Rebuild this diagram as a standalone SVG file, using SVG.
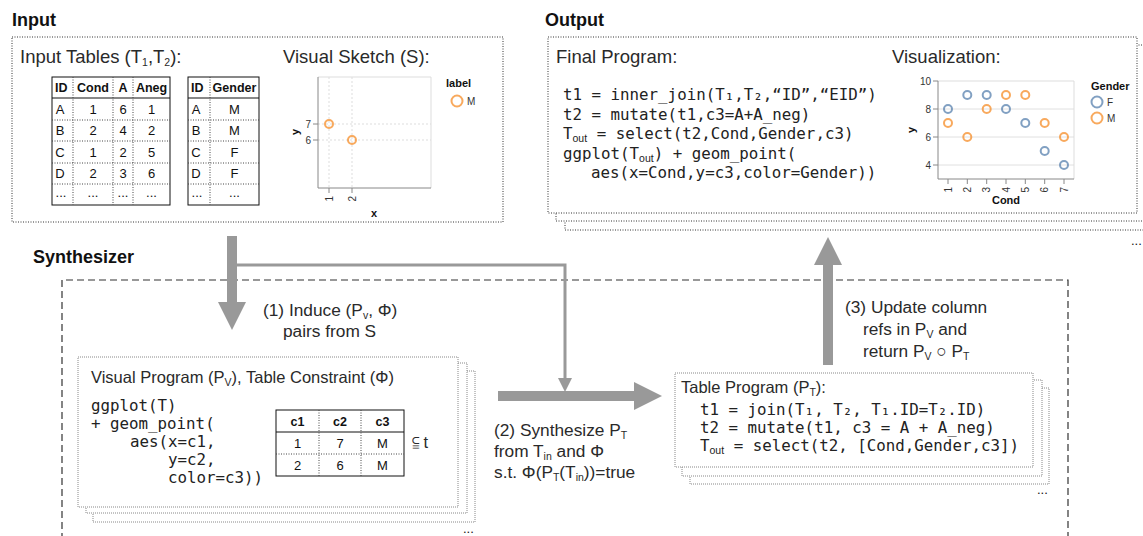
<svg xmlns="http://www.w3.org/2000/svg" width="1143" height="536" viewBox="0 0 1143 536">
<defs>
<style>
.title{font-family:'Liberation Sans',Arial,sans-serif;font-weight:bold;font-size:18px;fill:#111}
.lbl{font-family:'Liberation Sans',Arial,sans-serif;font-size:16.5px;fill:#2a2a2a}
.top{font-size:18.5px}
.arr{font-size:17.3px}
.sub{font-size:10.5px}
.code{font-family:'DejaVu Sans Mono',monospace;font-size:15.8px;fill:#222;white-space:pre}
.csub{font-family:'Liberation Sans',sans-serif;font-size:10.5px}
.th{font-family:'Liberation Sans',Arial,sans-serif;font-weight:bold;font-size:12.5px;fill:#111}
.td{font-family:'Liberation Sans',Arial,sans-serif;font-size:13px;fill:#111}
.ax{font-family:'Liberation Sans',Arial,sans-serif;font-size:10px;fill:#333}
.axt{font-family:'Liberation Sans',Arial,sans-serif;font-weight:bold;font-size:11px;fill:#111}
.dotbox{fill:#fff;stroke:#333;stroke-width:1;stroke-dasharray:1 1.5}
.frame{fill:#fff;stroke:#888;stroke-width:1;stroke-dasharray:1 1}
.dash{fill:none;stroke:#333;stroke-width:1.2;stroke-dasharray:7 4}
.tb{fill:#fff;stroke:#111;stroke-width:1}
.tsolid{stroke:#111;stroke-width:1}
.tdot{stroke:#444;stroke-width:1;stroke-dasharray:1 1.5}
.grid{stroke:#e0e0e0;stroke-width:1}
.gdash{stroke:#ddd;stroke-width:1;stroke-dasharray:2 2}
.axis{stroke:#888;stroke-width:1;fill:none}
.pborder{stroke:#ddd;stroke-width:1;fill:none}
.pF{fill:none;stroke:#4c78a8;stroke-width:2;stroke-opacity:.7}
.pM{fill:none;stroke:#f58518;stroke-width:2;stroke-opacity:.7}
.big{fill:none;stroke:#999;stroke-width:10}
.thin{fill:none;stroke:#999;stroke-width:3}
</style>
<marker id="bighead" markerUnits="userSpaceOnUse" markerWidth="30" markerHeight="30" refX="0" refY="14" orient="auto" viewBox="0 0 30 30">
<path d="M0,0 L28,14 L0,28 z" fill="#999"/>
</marker>
<marker id="smallhead" markerUnits="userSpaceOnUse" markerWidth="16" markerHeight="16" refX="0" refY="7" orient="auto" viewBox="0 0 16 16">
<path d="M0,0 L14,7 L0,14 z" fill="#999"/>
</marker>
</defs>
<rect width="1143" height="536" fill="#fff"/>

<!-- Titles -->
<text class="title" x="12" y="26">Input</text>
<text class="title" x="545" y="26">Output</text>
<text class="title" x="33" y="263">Synthesizer</text>

<!-- Synthesizer dashed region -->
<path class="dash" d="M62,540 V280 H1068 V540"/>

<!-- Input node -->
<g id="input">
<rect class="dotbox" x="12" y="37" width="491" height="185"/>
<text class="lbl top" x="20" y="63">Input Tables (T<tspan class="sub" dy="3">1</tspan><tspan dy="-3">,T</tspan><tspan class="sub" dy="3">2</tspan><tspan dy="-3">):</tspan></text>
<g id="table1">
<rect class="tb" x="52" y="77" width="118" height="128"/>
<line class="tsolid" x1="52" y1="98" x2="170" y2="98"/>
<line class="tdot" x1="52" y1="120" x2="170" y2="120"/>
<line class="tdot" x1="52" y1="141" x2="170" y2="141"/>
<line class="tdot" x1="52" y1="163" x2="170" y2="163"/>
<line class="tdot" x1="52" y1="184" x2="170" y2="184"/>
<line class="tdot" x1="73" y1="77" x2="73" y2="205"/>
<line class="tdot" x1="113" y1="77" x2="113" y2="205"/>
<line class="tdot" x1="133" y1="77" x2="133" y2="205"/>
<text class="th" x="55" y="92">ID</text>
<text class="th" x="93" y="92" text-anchor="middle">Cond</text>
<text class="th" x="123" y="92" text-anchor="middle">A</text>
<text class="th" x="151.5" y="92" text-anchor="middle">Aneg</text>
<g class="td" text-anchor="middle">
<text x="60" y="114">A</text><text x="93" y="114">1</text><text x="123" y="114">6</text><text x="151.5" y="114">1</text>
<text x="60" y="135">B</text><text x="93" y="135">2</text><text x="123" y="135">4</text><text x="151.5" y="135">2</text>
<text x="60" y="157">C</text><text x="93" y="157">1</text><text x="123" y="157">2</text><text x="151.5" y="157">5</text>
<text x="60" y="178">D</text><text x="93" y="178">2</text><text x="123" y="178">3</text><text x="151.5" y="178">6</text>
<text x="61" y="197">...</text><text x="93" y="197">...</text><text x="123" y="197">...</text><text x="151.5" y="197">...</text>
</g>
</g>
<g id="table2">
<rect class="tb" x="188" y="77" width="71" height="128"/>
<line class="tsolid" x1="188" y1="98" x2="259" y2="98"/>
<line class="tdot" x1="188" y1="120" x2="259" y2="120"/>
<line class="tdot" x1="188" y1="141" x2="259" y2="141"/>
<line class="tdot" x1="188" y1="163" x2="259" y2="163"/>
<line class="tdot" x1="188" y1="184" x2="259" y2="184"/>
<line class="tdot" x1="210" y1="77" x2="210" y2="205"/>
<text class="th" x="191" y="92">ID</text>
<text class="th" x="234.5" y="92" text-anchor="middle">Gender</text>
<g class="td" text-anchor="middle">
<text x="196" y="114">A</text><text x="234.5" y="114">M</text>
<text x="196" y="135">B</text><text x="234.5" y="135">M</text>
<text x="196" y="157">C</text><text x="234.5" y="157">F</text>
<text x="196" y="178">D</text><text x="234.5" y="178">F</text>
<text x="197" y="197">...</text><text x="234.5" y="197">...</text>
</g>
</g>
<g id="sketch">
<text class="lbl top" x="283" y="63">Visual Sketch (S):</text>
<line class="gdash" x1="329" y1="77" x2="329" y2="188"/>
<line class="gdash" x1="352" y1="77" x2="352" y2="188"/>
<line class="gdash" x1="318" y1="124" x2="431" y2="124"/>
<line class="gdash" x1="318" y1="140" x2="431" y2="140"/>
<path class="pborder" d="M318,77 H431 V188"/>
<path class="axis" d="M318,77 V188 H431"/>
<path class="axis" d="M313,124 H318 M313,140 H318 M329,188 V193 M352,188 V193"/>
<text class="ax" x="311" y="128" text-anchor="end" font-size="11">7</text>
<text class="ax" x="311" y="144" text-anchor="end" font-size="11">6</text>
<text class="ax" transform="translate(329,196) rotate(-90)" text-anchor="end" dy="0.35em" font-size="11">1</text>
<text class="ax" transform="translate(352,196) rotate(-90)" text-anchor="end" dy="0.35em" font-size="11">2</text>
<text class="axt" transform="translate(299,132) rotate(-90)" text-anchor="middle">y</text>
<text class="axt" x="374" y="217" text-anchor="middle">x</text>
<circle class="pM" cx="329" cy="124" r="4"/>
<circle class="pM" cx="352" cy="140" r="4"/>
<text class="axt" x="446" y="87">label</text>
<circle class="pM" cx="457" cy="101" r="5.5" stroke-width="1.8"/>
<text class="ax" x="467" y="105" font-size="11">M</text>
</g>
</g>

<!-- Output node -->
<g id="output">
<rect class="dotbox" x="565" y="54" width="600" height="176"/>
<rect class="dotbox" x="556" y="45" width="600" height="176"/>
<rect class="dotbox" x="548" y="37" width="589" height="176"/>
<text class="lbl top" x="556" y="63">Final Program:</text>
<text class="code" x="563" y="100">t1 = inner_join(T₁,T₂,“ID”,“EID”)</text>
<text class="code" x="563" y="119.5">t2 = mutate(t1,c3=A+A_neg)</text>
<text class="code" x="563" y="139">T<tspan class="csub" dy="3">out</tspan><tspan dy="-3"> = select(t2,Cond,Gender,c3)</tspan></text>
<text class="code" x="563" y="158.5">ggplot(T<tspan class="csub" dy="3">out</tspan><tspan dy="-3">) + geom_point(</tspan></text>
<text class="code" x="591" y="178">aes(x=Cond,y=c3,color=Gender))</text>
<text class="lbl top" x="892" y="63">Visualization:</text>
<g id="chart">
<line class="grid" x1="938" y1="109" x2="1074" y2="109"/>
<line class="grid" x1="938" y1="137" x2="1074" y2="137"/>
<line class="grid" x1="938" y1="165" x2="1074" y2="165"/>
<path class="pborder" d="M938,81 H1074 V179"/>
<path class="axis" d="M938,81 V179 H1074"/>
<path class="axis" d="M933,81 H938 M933,109 H938 M933,137 H938 M933,165 H938"/>
<text class="ax" x="931" y="84.5" text-anchor="end">10</text>
<text class="ax" x="931" y="112.5" text-anchor="end">8</text>
<text class="ax" x="931" y="140.5" text-anchor="end">6</text>
<text class="ax" x="931" y="168.5" text-anchor="end">4</text>
<path class="axis" d="M948,179 V184 M967.3,179 V184 M986.7,179 V184 M1006,179 V184 M1025.3,179 V184 M1044.7,179 V184 M1064,179 V184"/>
<text class="ax" transform="translate(948,187) rotate(-90)" text-anchor="end" dy="0.35em">1</text>
<text class="ax" transform="translate(967.3,187) rotate(-90)" text-anchor="end" dy="0.35em">2</text>
<text class="ax" transform="translate(986.7,187) rotate(-90)" text-anchor="end" dy="0.35em">3</text>
<text class="ax" transform="translate(1006,187) rotate(-90)" text-anchor="end" dy="0.35em">4</text>
<text class="ax" transform="translate(1025.3,187) rotate(-90)" text-anchor="end" dy="0.35em">5</text>
<text class="ax" transform="translate(1044.7,187) rotate(-90)" text-anchor="end" dy="0.35em">6</text>
<text class="ax" transform="translate(1064,187) rotate(-90)" text-anchor="end" dy="0.35em">7</text>
<text class="axt" transform="translate(915,130) rotate(-90)" text-anchor="middle">y</text>
<text class="axt" x="1006" y="204" text-anchor="middle">Cond</text>
<circle class="pF" cx="948" cy="109" r="4"/><circle class="pM" cx="948" cy="123" r="4"/>
<circle class="pF" cx="967.3" cy="95" r="4"/><circle class="pM" cx="967.3" cy="137" r="4"/>
<circle class="pF" cx="986.7" cy="95" r="4"/><circle class="pM" cx="986.7" cy="109" r="4"/>
<circle class="pF" cx="1006" cy="109" r="4"/><circle class="pM" cx="1006" cy="95" r="4"/>
<circle class="pF" cx="1025.3" cy="123" r="4"/><circle class="pM" cx="1025.3" cy="95" r="4"/>
<circle class="pF" cx="1044.7" cy="151" r="4"/><circle class="pM" cx="1044.7" cy="123" r="4"/>
<circle class="pF" cx="1064" cy="165" r="4"/><circle class="pM" cx="1064" cy="137" r="4"/>
<text class="axt" x="1091" y="90">Gender</text>
<circle class="pF" cx="1097" cy="102" r="5.5" stroke-width="1.8"/>
<text class="ax" x="1107" y="106" font-size="11">F</text>
<circle class="pM" cx="1097" cy="118" r="5.5" stroke-width="1.8"/>
<text class="ax" x="1107" y="122" font-size="11">M</text>
</g>
<text class="td" x="1131" y="245">...</text>
</g>

<!-- Visual program node -->
<g id="visual-program">
<rect class="frame" x="93" y="371" width="382" height="151"/>
<rect class="frame" x="86" y="363" width="381" height="150"/>
<rect class="frame" x="78" y="357" width="380" height="150"/>
<text class="lbl" x="91" y="383">Visual Program (P<tspan class="sub" dy="3">V</tspan><tspan dy="-3">), Table Constraint (Φ)</tspan></text>
<text class="code" x="91" y="411">ggplot(T)</text>
<text class="code" x="91" y="429">+ geom_point(</text>
<text class="code" x="130" y="447">aes(x=c1,</text>
<text class="code" x="168" y="465">y=c2,</text>
<text class="code" x="168" y="483">color=c3))</text>
<g id="constraint-table">
<rect class="tb" x="276" y="410" width="128" height="66"/>
<line class="tsolid" x1="276" y1="432" x2="404" y2="432"/>
<line class="tdot" x1="276" y1="454" x2="404" y2="454"/>
<line class="tdot" x1="319" y1="410" x2="319" y2="476"/>
<line class="tdot" x1="361" y1="410" x2="361" y2="476"/>
<g text-anchor="middle">
<text class="th" x="297.5" y="425.5">c1</text><text class="th" x="340" y="425.5">c2</text><text class="th" x="382.5" y="425.5">c3</text>
<text class="td" x="297.5" y="447.5">1</text><text class="td" x="340" y="447.5">7</text><text class="td" x="382.5" y="447.5">M</text>
<text class="td" x="297.5" y="469.5">2</text><text class="td" x="340" y="469.5">6</text><text class="td" x="382.5" y="469.5">M</text>
</g>
</g>
<text class="lbl" x="412" y="448" font-size="15.5">⫅ t</text>
<text class="td" x="463" y="533">...</text>
</g>

<!-- Table program node -->
<g id="table-program">
<rect class="frame" x="690" y="388" width="359" height="96"/>
<rect class="frame" x="682" y="380" width="360" height="96"/>
<rect class="frame" x="675" y="373" width="358" height="94"/>
<text class="lbl" x="681" y="393">Table Program (P<tspan class="sub" dy="3">T</tspan><tspan dy="-3">):</tspan></text>
<text class="code" x="700" y="415">t1 = join(T₁, T₂, T₁.ID=T₂.ID)</text>
<text class="code" x="700" y="433">t2 = mutate(t1, c3 = A + A_neg)</text>
<text class="code" x="700" y="451">T<tspan class="csub" dy="3">out</tspan><tspan dy="-3"> = select(t2, [Cond,Gender,c3])</tspan></text>
<text class="td" x="1037" y="494">...</text>
</g>

<!-- Connectors -->
<g id="connectors">
<path class="thin" d="M236,265 H565 V378" marker-end="url(#smallhead)"/>
<path class="big" d="M232,236 V302" marker-end="url(#bighead)"/>
<path class="big" d="M498,396 H634" marker-end="url(#bighead)"/>
<path class="big" d="M828,365 V265" marker-end="url(#bighead)"/>
</g>

<!-- Connector labels -->
<g id="labels">
<text class="lbl arr" x="263" y="316">(1) Induce (P<tspan class="sub" dy="3">v</tspan><tspan dy="-3">, Φ)</tspan></text>
<text class="lbl arr" x="283" y="337">pairs from S</text>
<text class="lbl arr" x="494" y="436">(2) Synthesize P<tspan class="sub" dy="3">T</tspan></text>
<text class="lbl arr" x="494" y="457">from T<tspan class="sub" dy="3">in</tspan><tspan dy="-3"> and Φ</tspan></text>
<text class="lbl arr" x="494" y="478">s.t. Φ(P<tspan class="sub" dy="3">T</tspan><tspan dy="-3">(T</tspan><tspan class="sub" dy="3">in</tspan><tspan dy="-3">))=true</tspan></text>
<text class="lbl arr" x="845" y="313">(3) Update column</text>
<text class="lbl arr" x="863" y="335">refs in P<tspan class="sub" dy="3">V</tspan><tspan dy="-3"> and</tspan></text>
<text class="lbl arr" x="863" y="357">return P<tspan class="sub" dy="3">V</tspan><tspan dy="-3"> ○ P</tspan><tspan class="sub" dy="3">T</tspan></text>
</g>
</svg>
